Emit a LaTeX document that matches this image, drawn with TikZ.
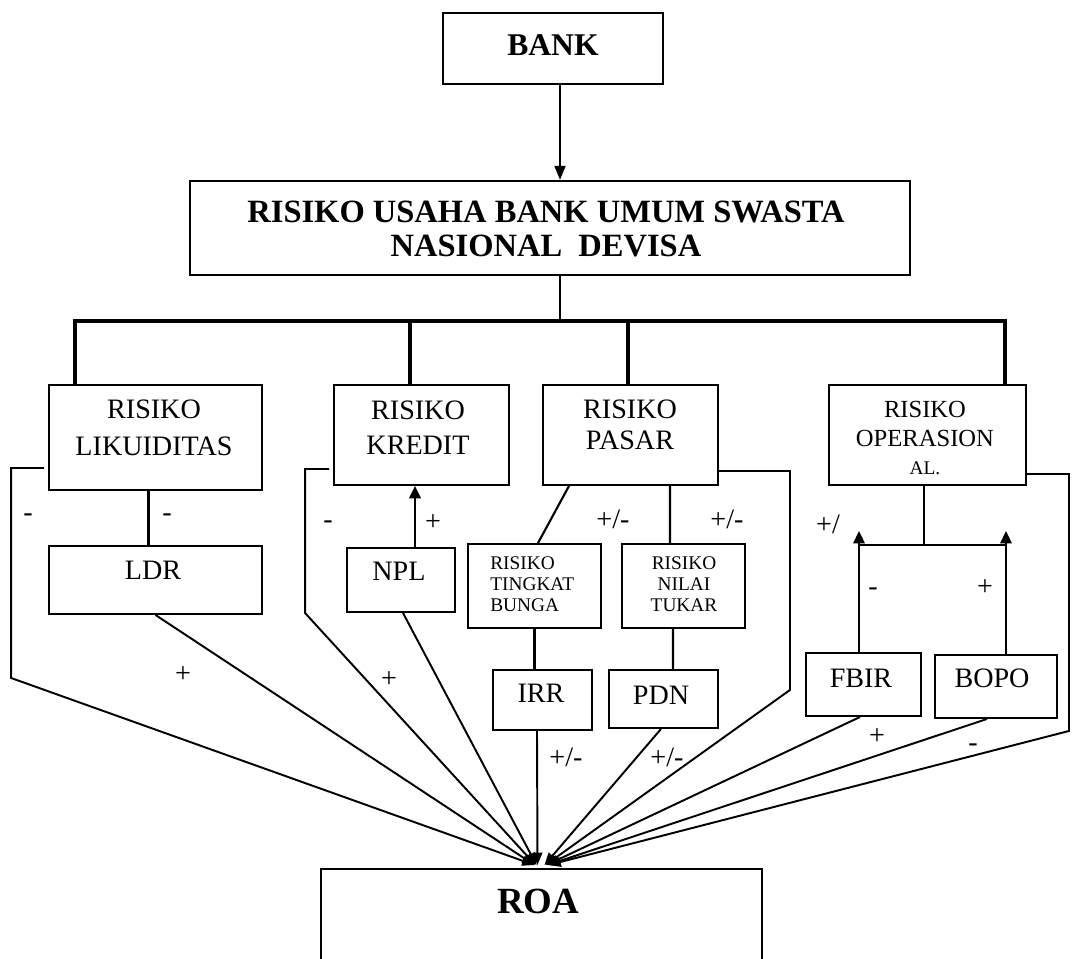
\documentclass[tikz,border=0pt]{standalone}
\usepackage{fontspec}
\setmainfont{Liberation Serif}
\usetikzlibrary{arrows.meta,fit,calc}
\begin{document}
\begin{tikzpicture}[x=0.02cm,y=-0.02cm,
 box/.style={draw, line width=1.1pt, inner sep=0pt},
 ln/.style={line width=1.2pt},
 busline/.style={line width=2.6pt},
 arr/.style={line width=1.2pt, -{Triangle[length=7pt,width=6.5pt]}},
 roaarr/.style={line width=1.1pt, -{Triangle[length=7pt,width=5.5pt]}},
 txt/.style={inner sep=0pt, align=center, font=\fontsize{16}{21}\selectfont},
 sign/.style={inner sep=0pt, font=\fontsize{16}{16}\selectfont},
 ]
\useasboundingbox (0,0) rectangle (1073,958);
\fill[white] (0,0) rectangle (1073,958);

% boxes
\node[box, fit={(443,13) (663,84)}] (bank) {};
\node[txt, font=\fontsize{18}{18}\selectfont\bfseries] (bankT) at (553,45) {BANK};

\node[box, fit={(190,181) (910,275)}] (risk) {};
\node[txt, font=\fontsize{18.5}{19}\selectfont\bfseries] (riskT) at (546,229) {RISIKO USAHA BANK UMUM SWASTA\\NASIONAL~~DEVISA};

\node[box, fit={(49,385) (262,490)}] (liq) {};
\node[txt, font=\fontsize{16}{21}\selectfont] (liqT) at (154,428) {RISIKO\\LIKUIDITAS};

\node[box, fit={(334,385) (509,485)}] (kre) {};
\node[txt, font=\fontsize{16}{20}\selectfont] (kreT) at (418,428) {RISIKO\\KREDIT};

\node[box, fit={(543,385) (718,485)}] (pas) {};
\node[txt, font=\fontsize{16}{18}\selectfont] (pasT) at (630,425) {RISIKO\\PASAR};

\node[box, fit={(829,385) (1026,485)}] (ops) {};
\node[txt, font=\fontsize{14}{16}\selectfont] (opsT) at (925,438) {RISIKO\\OPERASION\\{\fontsize{11}{16}\selectfont AL.}};

\node[box, fit={(49,546) (262,614)}] (ldr) {};
\node[txt] (ldrT) at (153,570) {LDR};

\node[box, fit={(347,548) (455,612)}] (npl) {};
\node[txt] (nplT) at (399,571) {NPL};

\node[box, fit={(468,544) (601,628)}] (tb) {};
\node[txt, align=left, anchor=west, font=\fontsize{11}{12}\selectfont] (tbT) at (490,584) {RISIKO\\TINGKAT\\BUNGA};

\node[box, fit={(622,544) (745,628)}] (nt) {};
\node[txt, font=\fontsize{11}{12}\selectfont] (ntT) at (684,584) {RISIKO\\NILAI\\TUKAR};

\node[box, fit={(493,670) (592,730)}] (irr) {};
\node[txt] (irrT) at (541,693) {IRR};

\node[box, fit={(609,670) (718,728)}] (pdn) {};
\node[txt] (pdnT) at (661,695) {PDN};

\node[box, fit={(806,653) (921,716)}] (fbir) {};
\node[txt] (fbirT) at (861,678) {FBIR};

\node[box, fit={(935,655) (1057,718)}] (bopo) {};
\node[txt] (bopoT) at (992,678) {BOPO};

\node[box, fit={(321,869) (762,1000)}] (roa) {};
\node[txt, font=\fontsize{21}{21}\selectfont\bfseries] (roaT) at (538,901) {ROA};

% tree from top
\coordinate (j0) at (560,321);
\coordinate (b1) at (75,321);
\coordinate (b2) at (410,321);
\coordinate (b3) at (628,321);
\coordinate (b4) at (1005,321);
\draw[line width=1.6pt, -{Triangle[length=8pt,width=6pt]}] (bank.south -| j0) -- (risk.north -| j0);
\draw[line width=1.6pt] (risk.south -| j0) -- (j0);
\draw[busline] ([xshift=-1.3pt]b1) -- ([xshift=1.3pt]b4);
\draw[busline] (b1) -- (b1 |- liq.north);
\draw[busline] (b2) -- (b2 |- kre.north);
\draw[busline] (b3) -- (b3 |- pas.north);
\draw[busline] (b4) -- (b4 |- ops.north);

% second level
\draw[ln] ($(liq.south)+(-7,0)$) -- ($(ldr.north)+(-7,0)$);
\draw[arr] ($(npl.north)+(14,0)$) -- ($(kre.south)+(-6.5,0)$);
\draw[ln] ($(pas.south)+(-61.5,0)$) -- ($(tb.north)+(3.5,0)$);
\draw[ln] ($(pas.south)+(39.5,0)$) -- ($(nt.north)+(-13.5,0)$);
\draw[ln] (tb.south) -- ($(irr.north)+(-8,0)$);
\draw[ln] ($(nt.south)+(-10.5,0)$) -- ($(pdn.north)+(9.5,0)$);

% operational
\coordinate (oj) at (924,545);
\coordinate (fa) at ($(fbir.north)+(-4.5,0)$);
\coordinate (ba) at ($(bopo.north)+(10,0)$);
\draw[ln] ($(ops.south)+(-3.5,0)$) -- (oj);
\draw[ln] (fa |- oj) -- (ba |- oj);
\draw[arr] (fa) -- ++(0,-121);
\draw[arr] (ba) -- ++(0,-123);

% connectors to ROA
\draw[roaarr] ($(liq.south west)+(-4,-23)$) -- ++(-33,0) -- ++(0,210) -- ($(roa.north)+(-7,-3)$);
\draw[roaarr] (ldr.south) -- ($(roa.north)+(-7,-3)$);
\draw[roaarr] ($(kre.south west)+(-4,-17)$) -- ++(-24,0) -- ++(0,144) -- ($(roa.north)+(-6,-3)$);
\draw[roaarr] ($(npl.south)+(2,0)$) -- ($(roa.north)+(-5,-3)$);
\draw[roaarr] ($(irr.south)+(-5.5,0)$) -- ($(roa.north)+(-4,-3)$);
\draw[roaarr] ($(pdn.south)+(-2.5,0)$) -- ($(roa.north)+(3,-3)$);
\draw[roaarr] ($(pas.south east)+(0,-15)$) -- ++(71,0) -- ++(0,219) -- ($(roa.north)+(4,-3)$);
\draw[roaarr] ($(fbir.south)+(-3.5,0)$) -- ($(roa.north)+(5,-3)$);
\draw[roaarr] ($(bopo.south)+(-9,0)$) -- ($(roa.north)+(6,-3)$);
\draw[roaarr] ($(ops.south east)+(0,-12)$) -- ++(42,0) -- ++(0,257) -- ($(roa.north)+(7,-3)$);

% signs
\node[sign] (s1) at (28,518) {-};
\node[sign] (s2) at (167,518) {-};
\node[sign] (s3) at (183,675) {+};
\node[sign] (s4) at (328,525) {-};
\node[sign] (s5) at (433,523) {+};
\node[sign] (s6) at (389,680) {+};
\node[sign] (s7) at (613,519) {+/-};
\node[sign] (s8) at (727,519) {+/-};
\node[sign] (s9) at (566,757) {+/-};
\node[sign] (s10) at (667,757) {+/-};
\node[sign] (s11) at (828,524) {+/};
\node[sign] (s12) at (873,592) {-};
\node[sign] (s13) at (985,588) {+};
\node[sign] (s14) at (877,737) {+};
\node[sign] (s15) at (973,748) {-};
\end{tikzpicture}
\end{document}
